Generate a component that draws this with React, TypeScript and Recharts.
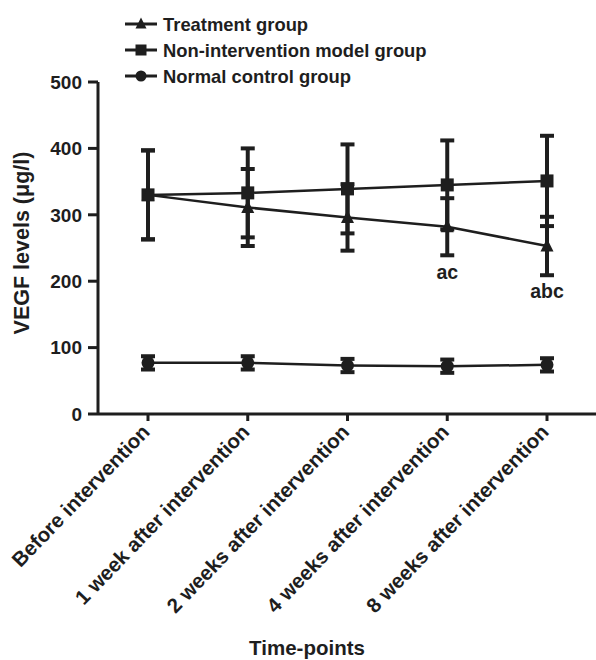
import { ErrorBar, LabelList, Line, LineChart, XAxis, YAxis } from "recharts";

const categories = [
  "Before intervention",
  "1 week after intervention",
  "2 weeks after intervention",
  "4 weeks after intervention",
  "8 weeks after intervention",
];
const treatment = [330, 311, 296, 282, 253];
const treatmentSd = [67, 58, 50, 43, 44];
const model = [330, 333, 339, 345, 351];
const modelSd = [67, 67, 67, 67, 68];
const normal = [77, 77, 73, 72, 74];
const normalSd = [10, 10, 10, 10, 10];
const marks = ["", "", "", "ac", "abc"];
const yTicks = [0, 100, 200, 300, 400, 500];

const INK = "#1e1e1e";
const FONT = "'Liberation Sans', Arial, Helvetica, sans-serif";

const data = categories.map((name, i) => ({
  name,
  treatment: treatment[i],
  treatmentSd: treatmentSd[i],
  model: model[i],
  modelSd: modelSd[i],
  normal: normal[i],
  normalSd: normalSd[i],
  mark: marks[i],
}));

type Shape = "triangle" | "square" | "circle";

function Marker({ cx, cy, shape, size = 13 }: { cx: number; cy: number; shape: Shape; size?: number }) {
  const h = size / 2;
  if (shape === "triangle") {
    return <polygon points={`${cx},${cy - h - 1} ${cx - h},${cy + h - 1} ${cx + h},${cy + h - 1}`} fill={INK} />;
  }
  if (shape === "square") {
    return <rect x={cx - h} y={cy - h} width={size} height={size} fill={INK} />;
  }
  return <circle cx={cx} cy={cy} r={h} fill={INK} />;
}

const dotFor = (shape: Shape) => (p: any) => (
  <g key={`${shape}-${p.index}`}>
    <Marker cx={p.cx} cy={p.cy} shape={shape} />
  </g>
);

const legendItems: { label: string; shape: Shape }[] = [
  { label: "Treatment group", shape: "triangle" },
  { label: "Non-intervention model group", shape: "square" },
  { label: "Normal control group", shape: "circle" },
];

// legend drawn as an overlay so it takes no room from the plot
function LegendBox() {
  return (
    <svg width={420} height={80} style={{ position: "absolute", left: 120, top: 12 }}>
      {legendItems.map((it, i) => {
        const y = 12 + i * 26;
        return (
          <g key={it.label}>
            <line x1={5} x2={37} y1={y} y2={y} stroke={INK} strokeWidth={3} />
            <Marker cx={21} cy={y} shape={it.shape} size={11} />
            <text x={43} y={y} dy="0.36em" fontSize={18.4} fontWeight="bold" fill={INK} fontFamily={FONT}>
              {it.label}
            </text>
          </g>
        );
      })}
    </svg>
  );
}

function XTick({ x, y, payload }: any) {
  return (
    <g transform={`translate(${x + 3},${y + 10})`}>
      <text textAnchor="end" transform="rotate(-46)" fontSize={20.5} fontWeight="bold" fill={INK} fontFamily={FONT}>
        {payload.value}
      </text>
    </g>
  );
}

function MarkLabel(p: any) {
  const v = marks[p.index];
  if (!v) return null;
  return (
    <text x={p.x} y={p.y + 45} dy="0.36em" textAnchor="middle" fontSize={19.5} fontWeight="bold" fill={INK} fontFamily={FONT}>
      {v}
    </text>
  );
}

export default function App() {
  return (
    <div style={{ position: "absolute", left: 0, top: 0, width: 596, height: 660, background: "#fff" }}>
      <LineChart width={596} height={660} data={data} margin={{ top: 82, right: 0, bottom: 0, left: 0 }}>
        <XAxis
          dataKey="name"
          padding={{ left: 50, right: 49 }}
          height={246}
          interval={0}
          tick={<XTick />}
          tickSize={7}
          tickMargin={2}
          axisLine={{ stroke: INK, strokeWidth: 3 }}
          tickLine={{ stroke: INK, strokeWidth: 3 }}
          label={(props: any) => {
            const vb = props.viewBox;
            return (
              <text x={307} y={vb.y + 234} dy="0.36em" textAnchor="middle" fontSize={20.5} fontWeight="bold" fill={INK} fontFamily={FONT}>
                Time-points
              </text>
            );
          }}
        />
        <YAxis
          domain={[0, 500]}
          ticks={yTicks}
          width={98}
          tickSize={10}
          tickMargin={6}
          axisLine={{ stroke: INK, strokeWidth: 3 }}
          tickLine={{ stroke: INK, strokeWidth: 3 }}
          tick={{ fill: INK, fontSize: 19, fontWeight: "bold", fontFamily: FONT }}
          label={(props: any) => {
            const vb = props.viewBox;
            const cy = vb.y + vb.height / 2 - 5;
            return (
              <text
                x={21}
                y={cy}
                transform={`rotate(-90, 21, ${cy})`}
                dy="0.36em"
                textAnchor="middle"
                fontSize={21.5}
                fontWeight="bold"
                fill={INK}
                fontFamily={FONT}
              >
                VEGF levels (μg/l)
              </text>
            );
          }}
        />
        <Line dataKey="normal" stroke={INK} strokeWidth={2.5} dot={dotFor("circle")} isAnimationActive={false}>
          <ErrorBar dataKey="normalSd" width={7} strokeWidth={4} stroke={INK} direction="y" />
        </Line>
        <Line dataKey="model" stroke={INK} strokeWidth={2.5} dot={dotFor("square")} isAnimationActive={false}>
          <ErrorBar dataKey="modelSd" width={7} strokeWidth={4} stroke={INK} direction="y" />
        </Line>
        <Line dataKey="treatment" stroke={INK} strokeWidth={2.5} dot={dotFor("triangle")} isAnimationActive={false}>
          <ErrorBar dataKey="treatmentSd" width={7} strokeWidth={4} stroke={INK} direction="y" />
          <LabelList dataKey="mark" content={<MarkLabel />} />
        </Line>
      </LineChart>
      <LegendBox />
    </div>
  );
}
